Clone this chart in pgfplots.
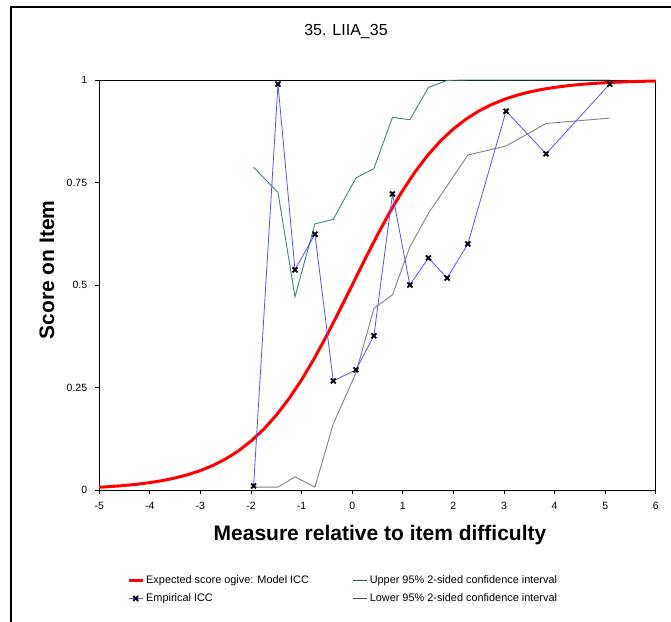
\documentclass[border=0pt]{standalone}
\usepackage{fontspec}
\setmainfont{Liberation Sans}
\usepackage{pgfplots}
\pgfplotsset{compat=1.18}
\definecolor{cired}{RGB}{255,0,0}
\definecolor{empblue}{RGB}{80,80,255}
\definecolor{upteal}{RGB}{64,128,128}
\definecolor{lowgray}{RGB}{128,128,128}
\begin{document}
\begin{tikzpicture}
\path[use as bounding box] (0pt,0pt) rectangle (671pt,621pt);
\draw[line width=2pt] (11pt,-20pt) -- (11pt,613.5pt) -- (700pt,613.5pt);
\begin{axis}[
  at={(99.2pt,131pt)}, anchor=south west,
  width=556.6pt, height=410pt, scale only axis,
  xmin=-5, xmax=6, ymin=0, ymax=1,
  clip=false,
  xtick={-5,-4,-3,-2,-1,0,1,2,3,4,5,6},
  xticklabels={-5,-4,-3,-2,-1,0,1,2,3,4,5,6},
  ytick={0,0.25,0.5,0.75,1},
  yticklabels={0,0.25,0.5,0.75,1},
  tick pos=left, tick align=outside, major tick length=4pt,
  tick style={black, line width=0.8pt},
  axis line style={black, line width=0.8pt},
  tick label style={font=\fontsize{10.5}{12}\selectfont},
  xticklabel style={yshift=-5pt},
  yticklabel style={xshift=-4.5pt},
  title={35. LIIA\_35},
  title style={at={(axis description cs:0.4434,1.103)}, anchor=center, font=\fontsize{16}{18}\selectfont},
  xlabel={Measure relative to item difficulty},
  xlabel style={at={(axis description cs:0.5045,-0.122)}, anchor=base, font=\bfseries\fontsize{21}{24}\selectfont},
  ylabel={Score on Item},
  ylabel style={at={(axis description cs:-0.0938,0.5366)}, anchor=center, font=\bfseries\fontsize{21}{24}\selectfont},
  legend image code/.code={\draw[mark repeat=2,mark phase=2,#1] plot coordinates {(0pt,0pt) (7pt,0pt) (14pt,0pt)};},
  legend columns=2,
  legend cell align=left,
  legend style={draw=none, fill=none, at={(axis description cs:0.0446,-0.198)}, anchor=north west,
    font=\fontsize{10.9}{12}\selectfont, row sep=5pt,
    /tikz/every even column/.append style={column sep=42pt}},
]
% Model ICC (expected score ogive)
\addplot[cired, line width=3pt, forget plot] coordinates {
(-5,0.00669) (-4.75,0.00858) (-4.5,0.01099) (-4.25,0.01406) (-4,0.01799)
(-3.75,0.02298) (-3.5,0.02931) (-3.25,0.03732) (-3,0.04743) (-2.75,0.06007)
(-2.5,0.07586) (-2.25,0.09535) (-2,0.11920) (-1.75,0.14805) (-1.5,0.18243)
(-1.25,0.22270) (-1,0.26894) (-0.75,0.32082) (-0.5,0.37754) (-0.25,0.43782)
(0,0.5) (0.25,0.56218) (0.5,0.62246) (0.75,0.67918) (1,0.73106)
(1.25,0.77730) (1.5,0.81757) (1.75,0.85195) (2,0.88080) (2.25,0.90465)
(2.5,0.92414) (2.75,0.93993) (3,0.95257) (3.25,0.96268) (3.5,0.97069)
(3.75,0.97702) (4,0.98201) (4.25,0.98594) (4.5,0.98901) (4.75,0.99142)
(5,0.99331) (5.25,0.99478) (5.5,0.99593) (5.75,0.99683) (6,0.99753)
};
% Upper 95% CI
\addplot[upteal, line width=0.9pt, forget plot] coordinates {
(-1.949,0.787) (-1.467,0.726) (-1.131,0.471) (-0.737,0.649) (-0.375,0.660)
(0.073,0.761) (0.429,0.784) (0.796,0.909) (1.139,0.903) (1.507,0.982)
(1.876,0.999) (2.285,1.0) (3.041,1.0) (3.831,1.0) (5.089,1.0)
};
% Lower 95% CI
\addplot[lowgray, line width=0.9pt, forget plot] coordinates {
(-1.949,0.007) (-1.467,0.007) (-1.131,0.032) (-0.737,0.007) (-0.375,0.161)
(0.073,0.285) (0.429,0.443) (0.796,0.476) (1.139,0.593) (1.507,0.675)
(1.876,0.742) (2.285,0.817) (3.041,0.839) (3.831,0.894) (5.089,0.907)
};
% Empirical ICC
\addplot[empblue, line width=0.8pt, mark=x, mark size=3.5pt, mark options={black, line width=1.8pt}, forget plot] coordinates {
(-1.949,0.010) (-1.467,0.990) (-1.131,0.537) (-0.737,0.624) (-0.375,0.266)
(0.073,0.293) (0.429,0.376) (0.796,0.722) (1.139,0.500) (1.507,0.566)
(1.876,0.517) (2.285,0.600) (3.041,0.924) (3.831,0.820) (5.089,0.990)
};
\addlegendimage{cired, line width=3pt}
\addlegendentry{Expected score ogive: Model ICC}
\addlegendimage{upteal!70!black, line width=0.8pt}
\addlegendentry{Upper 95\% 2-sided confidence interval}
\addlegendimage{empblue, line width=0.8pt, mark=x, mark size=3.5pt, mark options={black, line width=1.8pt}}
\addlegendentry{Empirical ICC}
\addlegendimage{lowgray!60!black, line width=0.8pt}
\addlegendentry{Lower 95\% 2-sided confidence interval}
\end{axis}
\end{tikzpicture}
\end{document}
